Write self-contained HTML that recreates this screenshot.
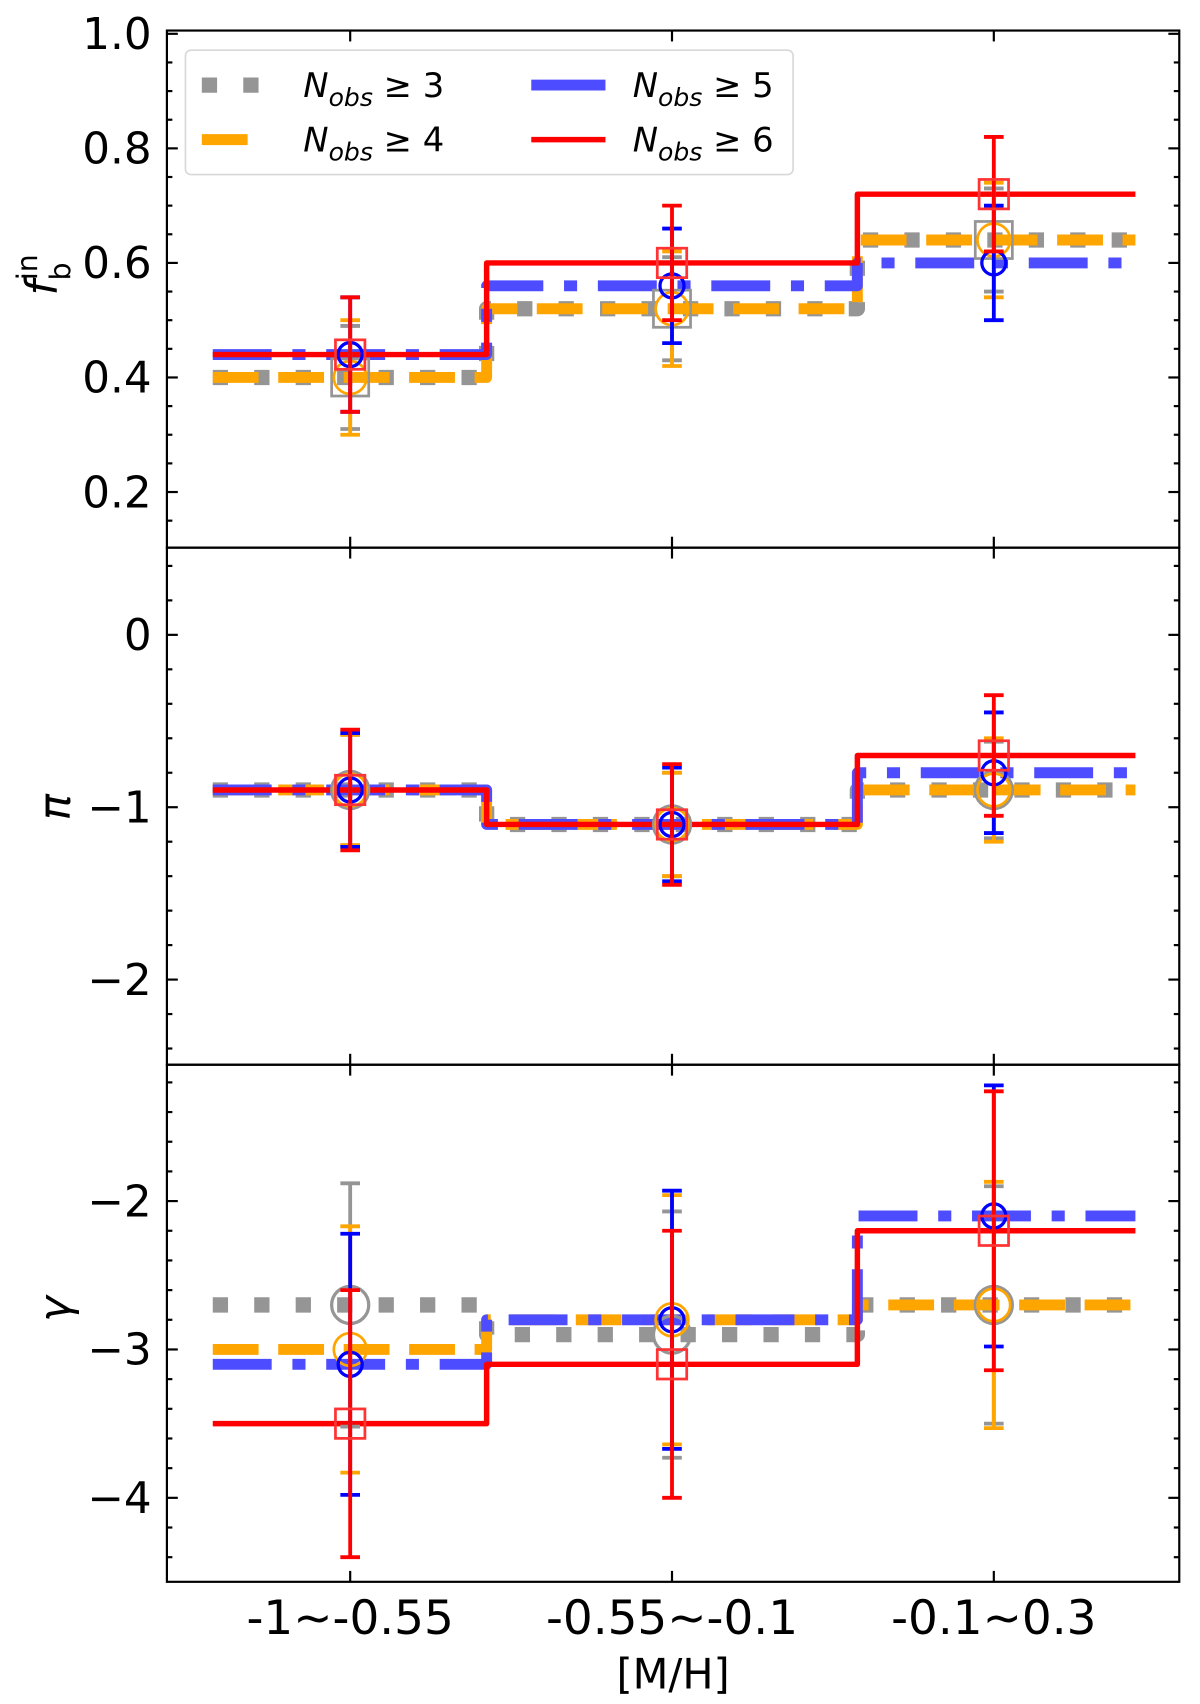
<!DOCTYPE html>
<html><head><meta charset="utf-8"><style>
html,body{margin:0;padding:0;background:#fff;}
svg{display:block;font-family:"DejaVu Sans","Liberation Sans",sans-serif;}
</style></head><body>
<svg id="chart" xmlns="http://www.w3.org/2000/svg" width="1200" height="1704" viewBox="0 0 1100 1562"></svg>
<script>
const categories = ['-1~-0.55', '-0.55~-0.1', '-0.1~0.3'];
const binEdges = [-0.427, 0.424, 1.576, 2.44];
const seriesNames = ['nobs3', 'nobs4', 'nobs5', 'nobs6'];
// f_b^in
const fbN3 = [0.40, 0.52, 0.64];  const fbN3Err = [0.09, 0.09, 0.09];
const fbN4 = [0.40, 0.52, 0.64];  const fbN4Err = [0.10, 0.10, 0.10];
const fbN5 = [0.44, 0.56, 0.60];  const fbN5Err = [0.10, 0.10, 0.10];
const fbN6 = [0.44, 0.60, 0.72];  const fbN6Err = [0.10, 0.10, 0.10];
// pi
const piN3 = [-0.9, -1.1, -0.9];  const piN3Err = [0.32, 0.30, 0.28];
const piN4 = [-0.9, -1.1, -0.9];  const piN4Err = [0.32, 0.30, 0.30];
const piN5 = [-0.9, -1.1, -0.8];  const piN5Err = [0.33, 0.33, 0.35];
const piN6 = [-0.9, -1.1, -0.7];  const piN6Err = [0.35, 0.35, 0.35];
// gamma
const gaN3 = [-2.7, -2.9, -2.7];  const gaN3Err = [0.82, 0.83, 0.80];
const gaN4 = [-3.0, -2.8, -2.7];  const gaN4Err = [0.83, 0.84, 0.83];
const gaN5 = [-3.1, -2.8, -2.1];  const gaN5Err = [0.88, 0.87, 0.88];
const gaN6 = [-3.5, -3.1, -2.2];  const gaN6Err = [0.90, 0.90, 0.94];
const fbTicks = [0.2, 0.4, 0.6, 0.8, 1.0];
const piTicks = [-2, -1, 0];
const gaTicks = [-4, -3, -2];

const NS = 'http://www.w3.org/2000/svg';
const svg = document.getElementById('chart');
function el(tag, attrs, parent) {
  const e = document.createElementNS(NS, tag);
  for (const k in attrs) e.setAttribute(k, attrs[k]);
  (parent || svg).appendChild(e);
  return e;
}
const X0 = 153, X1 = 1081;
function xs(v) { return 321 + v * 295; }

const styles = [
  {line:'#959595', lw:14, dash:'14 24', err:'#959595', mk:'#959595'},
  {line:'#ffa500', lw:10, dash:'42 18', err:'#ffa500', mk:'#ffa500'},
  {line:'#4d4dff', lw:10, dash:'54 19 12 19', err:'#0000ff', mk:'#0000ff'},
  {line:'#ff0000', lw:5, dash:'none', err:'#ff0000', mk:'#ff3333'}
];

const panels = [
  {name:'fb-panel', top:28, bottom:502, ymax:1.0057, ymin:0.1029, ticks:fbTicks, minor:0.05, fmt:v=>v.toFixed(1),
   vals:[fbN3,fbN4,fbN5,fbN6], errs:[fbN3Err,fbN4Err,fbN5Err,fbN6Err], markers:['sq','ci','cs','rs']},
  {name:'pi-panel', top:502, bottom:976, ymax:0.506, ymin:-2.494, ticks:piTicks, minor:0.2, fmt:v=>v<0?'\u2212'+Math.abs(v):String(v),
   vals:[piN3,piN4,piN5,piN6], errs:[piN3Err,piN4Err,piN5Err,piN6Err], markers:['gc','ci','cs','rs']},
  {name:'gamma-panel', top:976, bottom:1450, ymax:-1.081, ymin:-4.566, ticks:gaTicks, minor:0.2, fmt:v=>v<0?'\u2212'+Math.abs(v):String(v),
   vals:[gaN3,gaN4,gaN5,gaN6], errs:[gaN3Err,gaN4Err,gaN5Err,gaN6Err], markers:['gc','ci','cs','rs']}
];

panels.forEach((p, pi) => {
  const g = el('g', {});
  
  
  const ys = v => p.top + (p.ymax - v) / (p.ymax - p.ymin) * (p.bottom - p.top);
  p.vals.forEach((vals, si) => {
    const s = styles[si];
    let d = 'M' + xs(binEdges[0]) + ',' + ys(vals[0]);
    for (let i = 0; i < vals.length; i++) {
      if (i > 0) d += ' L' + xs(binEdges[i]) + ',' + ys(vals[i]);
      d += ' L' + xs(binEdges[i + 1]) + ',' + ys(vals[i]);
    }
    const path = el('path', {d:d, fill:'none', stroke:s.line, 'stroke-width':s.lw, 'stroke-dasharray':s.dash, 'stroke-linejoin':'round'}, g);
    
    
  });
  p.vals.forEach((vals, si) => {
    const s = styles[si];
    vals.forEach((v, i) => {
      const cx = xs(i), e = p.errs[si][i];
      const eb = el('g', {stroke:s.err, 'stroke-width':3.5, fill:'none'}, g);
      
      
      el('line', {x1:cx, x2:cx, y1:ys(v + e), y2:ys(v - e)}, eb);
      el('line', {x1:cx - 9, x2:cx + 9, y1:ys(v + e), y2:ys(v + e)}, eb);
      el('line', {x1:cx - 9, x2:cx + 9, y1:ys(v - e), y2:ys(v - e)}, eb);
      const m = p.markers[si];
      const cy = ys(v);
      let mk;
      if (m === 'sq') mk = el('rect', {x:cx - 17, y:cy - 17, width:34, height:34, fill:'none', stroke:s.mk, 'stroke-width':2.5}, g);
      else if (m === 'gc') mk = el('circle', {cx:cx, cy:cy, r:17, fill:'none', stroke:s.mk, 'stroke-width':3}, g);
      else if (m === 'ci') mk = el('circle', {cx:cx, cy:cy, r:15, fill:'none', stroke:s.mk, 'stroke-width':2.5}, g);
      else if (m === 'cs') mk = el('circle', {cx:cx, cy:cy, r:11, fill:'none', stroke:s.mk, 'stroke-width':3}, g);
      else mk = el('rect', {x:cx - 13.5, y:cy - 13.5, width:27, height:27, fill:'none', stroke:s.mk, 'stroke-width':2.5}, g);
      
      
    });
  });
  const fr = el('rect', {x:X0, y:p.top, width:X1 - X0, height:p.bottom - p.top, fill:'none', stroke:'#000', 'stroke-width':2}, g);
  
  
  const tg = el('g', {stroke:'#000', 'stroke-width':2}, g);
  
  
  const start = Math.ceil(p.ymin / p.minor - 1e-6);
  const end = Math.floor(p.ymax / p.minor + 1e-6);
  for (let k = start; k <= end; k++) {
    const v = k * p.minor, y = ys(v);
    const major = p.ticks.some(t => Math.abs(t - v) < 1e-6);
    const L = major ? 10 : 5;
    el('line', {x1:X0, x2:X0 + L, y1:y, y2:y}, tg);
    el('line', {x1:X1, x2:X1 - L, y1:y, y2:y}, tg);
  }
  p.ticks.forEach(t => {
    const tl = el('text', {x:X0 - 14, y:ys(t) + 14, 'text-anchor':'end', 'font-size':40}, g);
    tl.textContent = p.fmt(t);
    
    
  });
  categories.forEach((c, i) => {
    el('line', {x1:xs(i), x2:xs(i), y1:p.bottom, y2:p.bottom - 10}, tg);
    el('line', {x1:xs(i), x2:xs(i), y1:p.top, y2:p.top + 10}, tg);
  });
});

categories.forEach((c, i) => {
  const t = el('text', {x:xs(i), y:1498, 'text-anchor':'middle', 'font-size':43});
  t.textContent = c;
  
  
});
const xt = el('text', {x:617, y:1548, 'text-anchor':'middle', 'font-size':38});
xt.textContent = '[M/H]';



const y1 = el('text', {transform:'translate(52,252) rotate(-90)', 'font-size':40, 'text-anchor':'middle'});
y1.innerHTML = '<tspan font-style="italic">f</tspan><tspan font-size="26" dy="-18">in</tspan><tspan font-size="26" dx="-24" dy="30">b</tspan>';


const y2 = el('text', {transform:'translate(64,740) rotate(-90)', 'font-size':40, 'font-style':'italic', 'text-anchor':'middle'});
y2.textContent = '\u03c0';


const y3 = el('text', {transform:'translate(64,1200) rotate(-90)', 'font-size':40, 'font-style':'italic', 'text-anchor':'middle'});
y3.textContent = '\u03b3';



const lg = el('g', {});


el('rect', {x:170, y:46, width:557, height:114, rx:5, fill:'#fff', 'fill-opacity':0.8, stroke:'#d8d8d8', 'stroke-width':1.5}, lg);
const legendLabels = ['3', '4', '5', '6'];
const legendPos = [[185, 78], [185, 128], [487, 78], [487, 128]];
legendLabels.forEach((lab, i) => {
  const s = styles[i];
  const [lx, ly] = legendPos[i];
  const entry = el('g', {}, lg);
  
  
  const len = i < 2 ? 56 : 68;
  const dash = i === 1 ? '42 18' : (i === 0 ? '14 24' : 'none');
  el('line', {x1:lx, x2:lx + len, y1:ly, y2:ly, stroke:s.line, 'stroke-width':s.lw, 'stroke-dasharray':dash}, entry);
  const t = el('text', {x:i < 2 ? 278 : 580, y:ly + 11, 'font-size':31}, entry);
  t.innerHTML = '<tspan font-style="italic">N</tspan><tspan font-style="italic" font-size="23" dy="8">obs</tspan><tspan dy="-8"> \u2265 ' + lab + '</tspan>';
});
</script>
</body></html>
